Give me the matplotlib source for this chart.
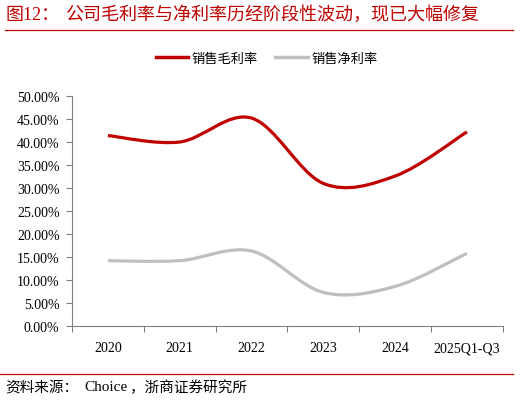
import numpy as np
import matplotlib
matplotlib.use("Agg")
import matplotlib.pyplot as plt
from matplotlib.path import Path
from matplotlib.patches import PathPatch
from matplotlib.lines import Line2D
from matplotlib.ticker import FuncFormatter, MultipleLocator

plt.rcParams['font.family'] = ['Liberation Serif', 'Noto Sans CJK SC']

years = ["2020", "2021", "2022", "2023", "2024", "2025Q1-Q3"]
gross_margin = [41.4, 40.0, 45.2, 31.0, 32.6, 42.2]
net_margin = [14.2, 14.2, 16.3, 7.3, 8.6, 15.8]

RED = "#C00000"
GRAY = "#BFBFBF"
CJK = ['Noto Sans CJK SC', 'DejaVu Sans']


def smooth_path(x, y):
    # excel-like smoothed line: cubic bezier with catmull-rom control points
    pts = np.column_stack([x, y]).astype(float)
    n = len(pts)
    verts = [pts[0]]
    codes = [Path.MOVETO]
    for i in range(n - 1):
        p0 = pts[i - 1] if i > 0 else pts[i]
        p1 = pts[i]
        p2 = pts[i + 1]
        p3 = pts[i + 2] if i + 2 < n else pts[i + 1]
        c1 = p1 + (p2 - p0) / 6.0
        c2 = p2 - (p3 - p1) / 6.0
        verts += [c1, c2, p2]
        codes += [Path.CURVE4] * 3
    return Path(verts, codes)


fig = plt.figure(figsize=(5.2, 4.02), dpi=100)
ax = fig.add_axes([0.1385, 0.1866, 0.8285, 0.5721])

xs = np.arange(len(years))
for vals, col in [(gross_margin, RED), (net_margin, GRAY)]:
    patch = PathPatch(smooth_path(xs, vals), facecolor="none", edgecolor=col,
                      lw=2.3, capstyle="butt", joinstyle="round")
    ax.add_patch(patch)

ax.set_xlim(-0.5, len(years) - 0.5)
ax.set_ylim(0, 50)
ax.yaxis.set_major_locator(MultipleLocator(5))
ax.yaxis.set_major_formatter(FuncFormatter(lambda v, p: f"{v:.2f}%"))
ax.set_xticks(xs)
ax.set_xticklabels(years)
ax.set_xticks(np.arange(-0.5, len(years), 1.0), minor=True)
ax.tick_params(axis="x", which="major", length=0, pad=11, labelsize=10)
ax.tick_params(axis="x", which="minor", length=4, color="#808080", width=0.8)
ax.tick_params(axis="y", length=4, color="#808080", width=0.8, pad=5, labelsize=10)
for s in ["top", "right"]:
    ax.spines[s].set_visible(False)
for s in ["left", "bottom"]:
    ax.spines[s].set_color("#808080")
    ax.spines[s].set_linewidth(0.8)

# title and footer
fig.text(0.01, 0.962, "图12：", color=RED, fontsize=13, va="center")
fig.text(0.125, 0.962, "公司毛利率与净利率历经阶段性波动，现已大幅修复", color=RED, fontsize=13,
         family=CJK, va="center")
fig.add_artist(Line2D([0.01, 0.987], [0.923, 0.923], color=RED, lw=0.9))
fig.add_artist(Line2D([0.0, 0.987], [0.067, 0.067], color=RED, lw=0.9))
fig.text(0.01, 0.035, "资料来源：", fontsize=10.5, family=CJK, va="center")
fig.text(0.163, 0.035, "Choice", fontsize=11, family=['Liberation Serif'], va="center")
fig.text(0.25, 0.035, "，浙商证券研究所", fontsize=10.5, family=CJK, va="center")

# legend
leg_handles = [Line2D([], [], color=RED, lw=2.5), Line2D([], [], color=GRAY, lw=2.5)]
leg = fig.legend(leg_handles, ["销售毛利率", "销售净利率"], loc="center", bbox_to_anchor=(0.513, 0.852),
                 ncol=2, frameon=False, handlelength=2.45, columnspacing=1.3, handletextpad=0.3,
                 prop={"family": CJK, "size": 9.5})

fig.savefig("out.png", dpi=100)
